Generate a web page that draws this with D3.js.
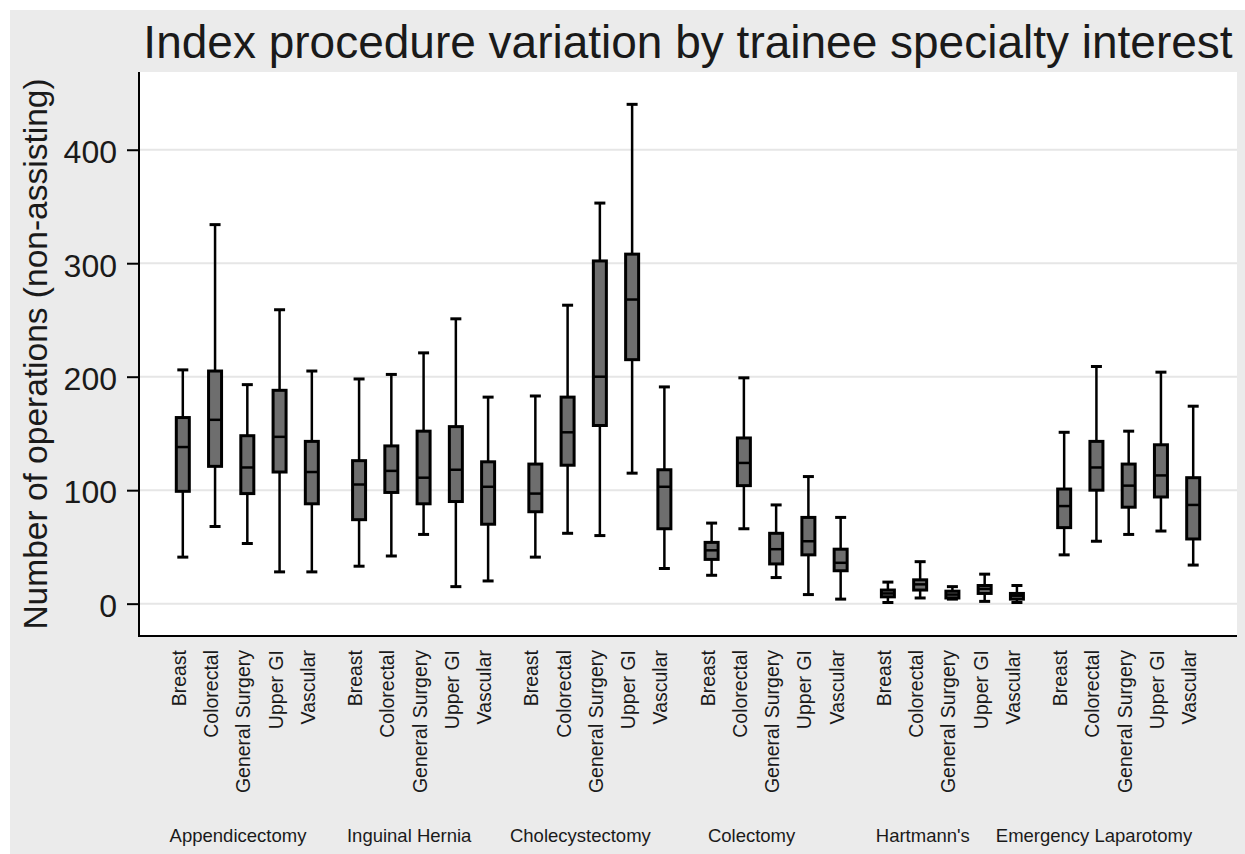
<!DOCTYPE html>
<html lang="en">
<head>
  <meta charset="UTF-8">
  <title>Index procedure variation by trainee specialty interest</title>
  <script src="https://d3js.org/d3.v7.min.js"></script>
  <style>
    body { margin: 0; background: #ffffff; }
    svg text { font-family: "Liberation Sans", Arial, sans-serif; fill: #1a1a1a; }
    .grid line { stroke: #e6e6e6; stroke-width: 2px; }
    .box { fill: #6e6e6e; stroke: #000000; stroke-width: 3px; }
    .whisker, .cap, .median { stroke: #000000; }
  </style>
</head>
<body>
  <div id="chart"></div>

  <script>
    // ------------------------ Data ------------------------

    const procedures = ["Appendicectomy", "Inguinal Hernia", "Cholecystectomy", "Colectomy", "Hartmann's", "Emergency Laparotomy"];
    const specialties = ["Breast", "Colorectal", "General Surgery", "Upper GI", "Vascular"];
    const yTicks = [0, 100, 200, 300, 400];

    // one row per procedure, one value per specialty
    const whiskerLow = [
      [41, 68, 53, 28, 28],
      [33, 42, 61, 15, 20],
      [41, 62, 60, 115, 31],
      [25, 66, 23, 8, 4],
      [1, 5, 4, 2, 1],
      [43, 55, 61, 64, 34]
    ];
    const boxQ1 = [
      [99, 121, 97, 116, 88],
      [74, 98, 88, 90, 70],
      [81, 122, 157, 215, 66],
      [39, 104, 35, 43, 29],
      [6, 12, 5, 9, 4],
      [67, 100, 85, 94, 57]
    ];
    const boxMedian = [
      [138, 162, 120, 147, 116],
      [105, 117, 111, 118, 103],
      [97, 151, 200, 268, 103],
      [47, 124, 48, 55, 36],
      [9, 17, 8, 13, 7],
      [86, 120, 104, 113, 87]
    ];
    const boxQ3 = [
      [164, 205, 148, 188, 143],
      [126, 139, 152, 156, 125],
      [123, 182, 302, 308, 118],
      [54, 146, 62, 76, 48],
      [12, 21, 11, 16, 9],
      [101, 143, 123, 140, 111]
    ];
    const whiskerHigh = [
      [206, 334, 193, 259, 205],
      [198, 202, 221, 251, 182],
      [183, 263, 353, 440, 191],
      [71, 199, 87, 112, 76],
      [19, 37, 15, 26, 16],
      [151, 209, 152, 204, 174]
    ];

    // ------------------------ Setup ------------------------

    const W = 1245, H = 854;
    const plot = { left: 139, right: 1237, top: 72, bottom: 636 };

    const svg = d3.select("#chart").append("svg")
      .attr("width", W)
      .attr("height", H);

    // outer grey graph region
    svg.append("rect")
      .attr("x", 10).attr("y", 10)
      .attr("width", W - 10).attr("height", H - 10)
      .attr("fill", "#ebebeb");

    svg.append("rect")
      .attr("x", plot.left).attr("y", plot.top)
      .attr("width", plot.right - plot.left).attr("height", plot.bottom - plot.top)
      .attr("fill", "#ffffff");

    const stats = procedures.flatMap((p, i) => specialties.map((s, j) => ({
      procedure: p, specialty: s,
      low: whiskerLow[i][j], q1: boxQ1[i][j], median: boxMedian[i][j],
      q3: boxQ3[i][j], high: whiskerHigh[i][j]
    })));

    // ------------------------ Scales ------------------------

    const x0 = d3.scaleBand()
      .domain(procedures)
      .range([plot.left, plot.right])
      .paddingInner(0.085)
      .paddingOuter(0.157);

    const x1 = d3.scaleBand()
      .domain(specialties)
      .range([0, x0.bandwidth()]);

    const xc = d => x0(d.procedure) + x1(d.specialty) + x1.bandwidth() / 2;

    // group captions sit a little left of the box groups
    const xLabel = d3.scalePoint()
      .domain(procedures)
      .range([238, 1094]);

    const y = d3.scaleLinear()
      .domain([-28.5, 468.5])
      .range([plot.bottom, plot.top]);

    // ------------------------ Grid & Axes ------------------------

    svg.append("g")
      .attr("class", "grid")
      .selectAll("line")
      .data(yTicks)
      .join("line")
      .attr("x1", plot.left)
      .attr("x2", plot.right)
      .attr("y1", d => y(d))
      .attr("y2", d => y(d));

    const yAxis = svg.append("g")
      .attr("transform", `translate(${plot.left},0)`)
      .call(d3.axisLeft(y).tickValues(yTicks).tickSize(12).tickPadding(10));
    yAxis.select(".domain").remove();
    yAxis.selectAll(".tick line").attr("stroke", "#000").attr("stroke-width", 2);
    yAxis.selectAll(".tick text")
      .attr("font-size", 32)
      .attr("dy", "0.4em")
      .attr("fill", "#1a1a1a");

    svg.append("line")
      .attr("x1", plot.left).attr("x2", plot.left)
      .attr("y1", plot.top).attr("y2", plot.bottom + 1)
      .attr("stroke", "#000").attr("stroke-width", 2);

    svg.append("line")
      .attr("x1", plot.left).attr("x2", plot.right)
      .attr("y1", plot.bottom).attr("y2", plot.bottom)
      .attr("stroke", "#000").attr("stroke-width", 2);

    // specialty labels under each box, one axis per procedure
    procedures.forEach(p => {
      const g = svg.append("g")
        .attr("transform", `translate(${x0(p)},${plot.bottom})`)
        .call(d3.axisBottom(x1).tickSize(0).tickPadding(0));
      g.select(".domain").remove();
      g.selectAll(".tick text")
        .attr("font-size", 19.5)
        .attr("fill", "#1a1a1a")
        .attr("text-anchor", "end")
        .attr("transform", "translate(0,14) rotate(-90)")
        .attr("x", 0)
        .attr("y", 0)
        .attr("dy", "3px");
    });

    svg.append("g")
      .selectAll("text")
      .data(procedures)
      .join("text")
      .attr("x", d => xLabel(d))
      .attr("y", 842)
      .attr("text-anchor", "middle")
      .attr("font-size", 18.5)
      .text(d => d);

    // ------------------------ Boxes ------------------------

    const boxW = 13, capW = 11;

    const boxes = svg.append("g")
      .selectAll("g")
      .data(stats)
      .join("g");

    boxes.append("line")
      .attr("class", "whisker")
      .attr("stroke-width", 2.5)
      .attr("x1", xc).attr("x2", xc)
      .attr("y1", d => y(d.low)).attr("y2", d => y(d.high));

    boxes.selectAll(".cap")
      .data(d => [d.low, d.high].map(v => ({ x: xc(d), v })))
      .join("line")
      .attr("class", "cap")
      .attr("stroke-width", 3)
      .attr("x1", d => d.x - capW / 2).attr("x2", d => d.x + capW / 2)
      .attr("y1", d => y(d.v)).attr("y2", d => y(d.v));

    boxes.append("rect")
      .attr("class", "box")
      .attr("x", d => xc(d) - boxW / 2)
      .attr("width", boxW)
      .attr("y", d => y(d.q3))
      .attr("height", d => y(d.q1) - y(d.q3));

    boxes.append("line")
      .attr("class", "median")
      .attr("stroke-width", 2.5)
      .attr("x1", d => xc(d) - boxW / 2).attr("x2", d => xc(d) + boxW / 2)
      .attr("y1", d => y(d.median)).attr("y2", d => y(d.median));

    // ------------------------ Titles ------------------------

    svg.append("text")
      .attr("x", (plot.left + plot.right) / 2)
      .attr("y", 58)
      .attr("text-anchor", "middle")
      .attr("font-size", 46)
      .text("Index procedure variation by trainee specialty interest");

    svg.append("text")
      .attr("transform", `translate(47,${(plot.top + plot.bottom) / 2}) rotate(-90)`)
      .attr("text-anchor", "middle")
      .attr("font-size", 33.5)
      .text("Number of operations (non-assisting)");
  </script>
</body>
</html>
